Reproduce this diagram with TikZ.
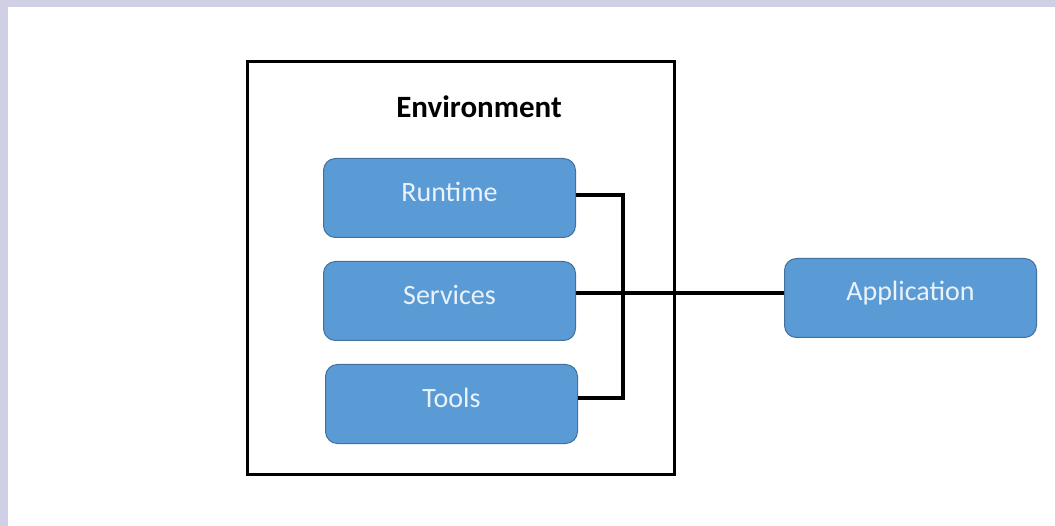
\documentclass[tikz,border=0pt]{standalone}
\usepackage{fontspec}
\setmainfont{Carlito}
\definecolor{bandc}{HTML}{CFCFE6}
\definecolor{boxfill}{HTML}{5B9BD5}
\definecolor{boxline}{HTML}{41719C}
\definecolor{boxtext}{HTML}{EAF2FB}
\begin{document}
\begin{tikzpicture}[x=1pt,y=-1pt,
  blk/.style={draw=boxline,line width=1pt,fill=boxfill,rounded corners=12pt,
    minimum width=252pt,minimum height=79pt,inner sep=0pt},
  lbl/.style={text=boxtext,font=\fontsize{28}{32}\selectfont,yshift=6pt},
  wire/.style={line width=3.2pt,black}]
\useasboundingbox (0,0) rectangle (1055,526);
\fill[bandc] (0,0) rectangle (1055,7);
\fill[bandc] (0,0) rectangle (8,526);
\node[draw,line width=3pt,minimum width=427pt,minimum height=413pt,inner sep=0pt,anchor=north west] (env) at (246,60) {};
\node[font=\bfseries\fontsize{31}{34}\selectfont,anchor=center] (envl) at (479,107) {Environment};
\node[blk,anchor=north west,label={[lbl]center:Runtime}] (run) at (323,158) {};
\node[blk,anchor=north west,label={[lbl]center:Services}] (srv) at (323,261) {};
\node[blk,anchor=north west,label={[lbl]center:Tools}] (tool) at (325,364) {};
\node[blk,anchor=north west,label={[lbl,yshift=-1pt]center:Application}] (app) at (784,258) {};
\coordinate (j1) at (623,195);
\coordinate (j2) at (623,398);
\coordinate (s1) at (576,293);
\draw[wire] (run.east |- j1) -- (j1) -- (j2) -- (tool.east |- j2);
\draw[wire] (srv.east |- s1) -- (s1 -| app.west);
\end{tikzpicture}
\end{document}
